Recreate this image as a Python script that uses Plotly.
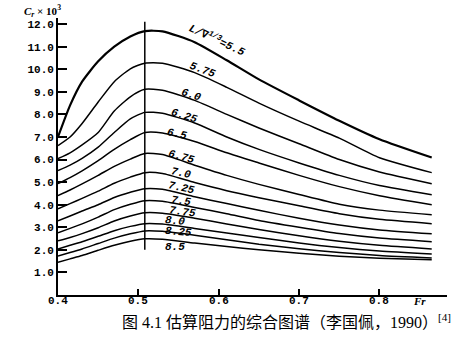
import plotly.graph_objects as go

# Froude numbers at which each curve is tabulated
fr = [0.40, 0.415, 0.43, 0.45, 0.47, 0.49, 0.508, 0.53, 0.57, 0.61, 0.65, 0.70, 0.75, 0.80, 0.865]

# Residuary resistance coefficient Cr x 10^3 for each slenderness ratio L/∇^(1/3)
cr_5_50 = [7.00, 8.40, 9.45, 10.35, 11.00, 11.45, 11.69, 11.68, 11.20, 10.40, 9.55, 8.62, 7.72, 6.90, 6.09]
cr_5_75 = [6.62, 7.00, 7.60, 8.55, 9.45, 10.02, 10.27, 10.27, 9.85, 9.20, 8.50, 7.70, 6.95, 6.08, 5.42]
cr_6_00 = [6.04, 6.30, 6.65, 7.20, 8.15, 8.78, 9.11, 9.07, 8.62, 8.00, 7.40, 6.70, 6.00, 5.45, 4.93]
cr_6_25 = [5.51, 5.75, 6.05, 6.55, 7.20, 7.80, 8.09, 8.05, 7.62, 7.00, 6.45, 5.85, 5.30, 4.85, 4.44]
cr_6_50 = [4.93, 5.20, 5.50, 5.95, 6.45, 6.88, 7.20, 7.18, 6.80, 6.30, 5.85, 5.30, 4.80, 4.40, 4.00]
cr_6_75 = [4.40, 4.65, 4.92, 5.30, 5.70, 6.02, 6.27, 6.22, 5.75, 5.30, 4.90, 4.45, 4.02, 3.76, 3.56]
cr_7_00 = [3.82, 4.05, 4.28, 4.60, 4.95, 5.22, 5.42, 5.38, 4.98, 4.62, 4.31, 3.95, 3.60, 3.35, 3.16]
cr_7_25 = [3.29, 3.50, 3.72, 4.00, 4.32, 4.55, 4.71, 4.68, 4.35, 4.05, 3.75, 3.40, 3.10, 2.88, 2.71]
cr_7_50 = [2.76, 2.95, 3.15, 3.45, 3.78, 4.02, 4.18, 4.15, 3.88, 3.60, 3.30, 3.00, 2.72, 2.52, 2.36]
cr_7_75 = [2.40, 2.55, 2.72, 2.98, 3.28, 3.50, 3.64, 3.62, 3.40, 3.15, 2.90, 2.62, 2.38, 2.20, 2.04]
cr_8_00 = [2.04, 2.20, 2.36, 2.60, 2.85, 3.04, 3.16, 3.14, 2.95, 2.75, 2.55, 2.30, 2.10, 1.95, 1.82]
cr_8_25 = [1.73, 1.88, 2.04, 2.28, 2.52, 2.71, 2.84, 2.82, 2.65, 2.45, 2.25, 2.05, 1.88, 1.75, 1.64]
cr_8_50 = [1.45, 1.60, 1.75, 1.98, 2.20, 2.38, 2.49, 2.47, 2.30, 2.15, 2.00, 1.85, 1.72, 1.63, 1.56]

ratio_labels = ["L/∇<sup>1/3</sup>=5.5", "5.75", "6.0", "6.25", "6.5", "6.75",
                "7.0", "7.25", "7.5", "7.75", "8.0", "8.25", "8.5"]

# Vertical reference line at the hump
fr_hump = 0.508
hump_range = [2.0, 12.1]

y_ticks = [1, 2, 3, 4, 5, 6, 7, 8, 9, 10, 11, 12]
x_ticks = [0.4, 0.5, 0.6, 0.7, 0.8]

curves = [cr_5_50, cr_5_75, cr_6_00, cr_6_25, cr_6_50, cr_6_75, cr_7_00,
          cr_7_25, cr_7_50, cr_7_75, cr_8_00, cr_8_25, cr_8_50]

# label placement (Fr, Cr, angle) for each curve name
label_pos = [(0.598, 11.30, 25), (0.580, 9.95, 20), (0.566, 8.85, 18),
             (0.5575, 7.95, 18), (0.5475, 7.13, 12), (0.554, 6.12, 15),
             (0.5525, 5.40, 12), (0.554, 4.73, 12), (0.5525, 4.15, 8),
             (0.555, 3.66, 8), (0.546, 3.30, 5), (0.55, 2.77, 5),
             (0.545, 2.13, 0)]

fig = go.Figure()

for i, cr in enumerate(curves):
    fig.add_trace(go.Scatter(
        x=fr, y=cr, mode="lines",
        line=dict(color="black", width=2.2 if i == 0 else 1.5,
                  shape="spline", smoothing=0.6),
        hoverinfo="skip", showlegend=False))

fig.add_trace(go.Scatter(
    x=[fr_hump, fr_hump], y=hump_range, mode="lines",
    line=dict(color="black", width=1.5), hoverinfo="skip", showlegend=False))

label_font = dict(family="Liberation Mono, DejaVu Sans Mono", size=11, color="black")
for text, (lx, ly, ang) in zip(ratio_labels, label_pos):
    fig.add_annotation(x=lx, y=ly, text="<b><i>" + text + "</i></b>",
                       showarrow=False, textangle=ang, font=label_font,
                       xanchor="center", yanchor="middle")

tick_font = dict(family="Liberation Mono, DejaVu Sans Mono", size=11, color="black")

# x tick labels sit tight under the axis line
for v in x_ticks:
    fig.add_annotation(x=v, yref="paper", y=-0.022, text="<b>%.1f</b>" % v,
                       showarrow=False, xanchor="center", yanchor="middle",
                       font=tick_font)

fig.update_xaxes(range=[0.4, 0.884], tickvals=x_ticks, showticklabels=False,
                 ticks="inside", ticklen=6, tickwidth=1.5, tickcolor="black",
                 showline=True, linecolor="black", linewidth=1.8,
                 showgrid=False, zeroline=False)
fig.update_yaxes(range=[0, 12.27], tickvals=y_ticks,
                 ticktext=["<b>%.1f</b>" % v for v in y_ticks],
                 ticks="inside", ticklen=9, tickwidth=1.5, tickcolor="black",
                 showline=True, linecolor="black", linewidth=1.8,
                 showgrid=False, zeroline=False, tickfont=tick_font)

# axis titles
fig.add_annotation(xref="paper", yref="paper", x=-0.04, y=1.025,
                   text="<b><i>C<sub>r</sub></i> × 10<sup>3</sup></b>",
                   showarrow=False, xanchor="center", yanchor="middle",
                   font=dict(family="Liberation Serif", size=11, color="black"))
fig.add_annotation(xref="paper", yref="paper", x=0.93, y=-0.022,
                   text="<b><i>Fr</i></b>", showarrow=False,
                   xanchor="center", yanchor="middle",
                   font=dict(family="Liberation Serif", size=11, color="black"))

# caption
fig.add_annotation(xref="paper", yref="paper", x=0.159, y=-0.093,
                   text="图 4.1 估算阻力的综合图谱（李国佩，1990）<sup>[4]</sup>",
                   showarrow=False, xanchor="left", yanchor="middle",
                   font=dict(family="Liberation Serif, Noto Sans CJK SC", size=16, color="black"))

fig.update_layout(width=462, height=339,
                  margin=dict(l=58, r=15, t=18, b=44),
                  plot_bgcolor="white", paper_bgcolor="white")

fig.write_html("out.html")
